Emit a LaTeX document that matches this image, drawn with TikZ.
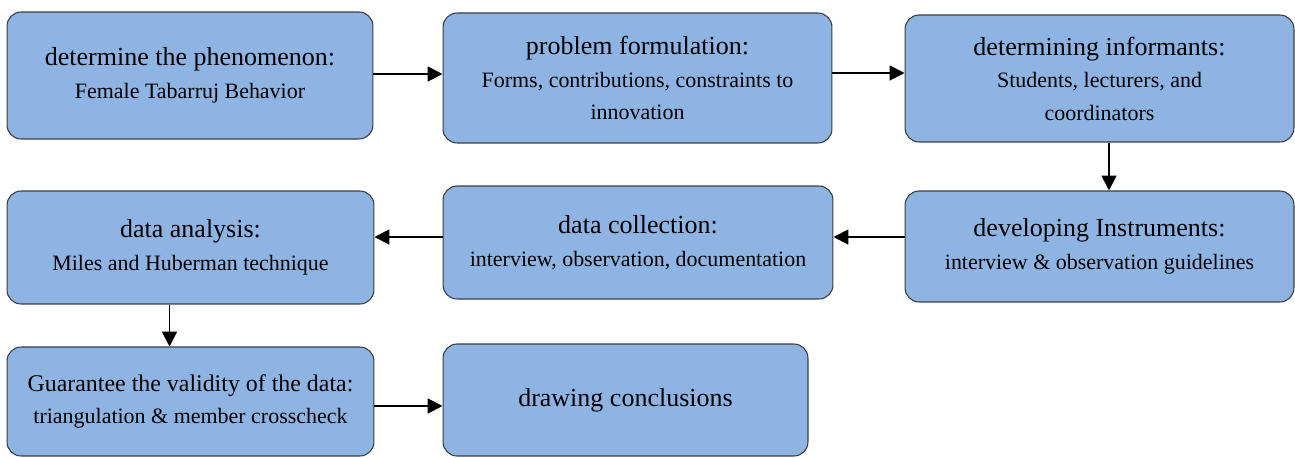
\documentclass[tikz,border=0pt]{standalone}
\usepackage{fontspec}
\setmainfont{Liberation Serif}
\usetikzlibrary{arrows.meta,positioning}
\definecolor{stepblue}{RGB}{142,180,227}
\definecolor{stepedge}{RGB}{60,60,60}

\begin{document}
\begin{tikzpicture}[x=0.02cm, y=-0.02cm,
  stage/.style={draw=stepedge, fill=stepblue, rounded corners=8pt, line width=0.6pt,
    align=center, inner sep=2pt, font=\fontsize{12.5}{18.5}\selectfont},
  flow/.style={-{Triangle[length=8.5pt,width=8.5pt]}, line width=1.1pt}]
\useasboundingbox (0,0) rectangle (1295,457);
% First row
\node[stage, minimum width=7.32cm, minimum height=2.54cm] (pheno) at (190,75.5)
  {{\fontsize{14.8}{19}\selectfont determine the phenomenon:}\\ Female Tabarruj Behavior};
\node[stage, minimum width=7.78cm, minimum height=2.60cm] (problem) at (637.5,78)
  {{\fontsize{14.8}{19}\selectfont problem formulation:}\\ Forms, contributions, constraints to\\ innovation};
\node[stage, minimum width=7.78cm, minimum height=2.54cm] (inform) at (1099.5,78.5)
  {{\fontsize{14.8}{19}\selectfont determining informants:}\\ Students, lecturers, and\\ coordinators};
% Second row
\node[stage, minimum width=7.34cm, minimum height=2.26cm] (analysis) at (190.5,247.5)
  {{\fontsize{14.8}{19}\selectfont data analysis:}\\ Miles and Huberman technique};
\node[stage, minimum width=7.80cm, minimum height=2.26cm] (collect) at (638,242.5)
  {{\fontsize{14.8}{19}\selectfont data collection:}\\ interview, observation, documentation};
\node[stage, minimum width=7.78cm, minimum height=2.22cm] (instr) at (1099.5,246.5)
  {{\fontsize{14.8}{19}\selectfont developing Instruments:}\\ interview \& observation guidelines};
% Third row
\node[stage, minimum width=7.34cm, minimum height=2.18cm] (valid) at (190.5,401.5)
  {{\fontsize{13.6}{19}\selectfont Guarantee the validity of the data:}\\ triangulation \& member crosscheck};
\node[stage, minimum width=7.30cm, minimum height=2.24cm, font=\fontsize{14.8}{19}\selectfont] (concl) at (625.5,400)
  {drawing conclusions};
% Arrows
\draw[flow] ([yshift=0.03cm]pheno.east) -- ([yshift=0.03cm]pheno.east -| problem.west);
\draw[flow] ([yshift=0.1cm]problem.east) -- ([yshift=0.1cm]problem.east -| inform.west);
\draw[flow] ([xshift=0.19cm]inform.south) -- ([xshift=0.19cm]inform.south |- instr.north);
\draw[flow] ([yshift=0.19cm]instr.west) -- ([yshift=0.19cm]instr.west -| collect.east);
\draw[flow] ([yshift=0.11cm]collect.west) -- ([yshift=0.11cm]collect.west -| analysis.east);
\draw[flow] ([xshift=-0.42cm]analysis.south) -- ([xshift=-0.42cm]analysis.south |- valid.north);
\draw[flow] ([yshift=-0.09cm]valid.east) -- ([yshift=-0.09cm]valid.east -| concl.west);
\end{tikzpicture}
\end{document}
